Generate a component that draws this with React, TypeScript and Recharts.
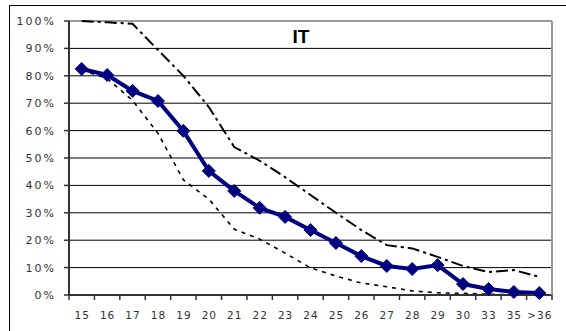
import { CartesianGrid, Line, LineChart, ReferenceLine, XAxis, YAxis } from 'recharts';

const ages = ['15', '16', '17', '18', '19', '20', '21', '22', '23', '24', '25', '26', '27', '28', '29', '30', '33', '35', '>36'];
const itShare = [0.825, 0.803, 0.745, 0.708, 0.599, 0.453, 0.38, 0.318, 0.285, 0.237, 0.19, 0.142, 0.106, 0.095, 0.109, 0.04, 0.022, 0.011, 0.007];
const upperBound = [1.0, 0.995, 0.99, 0.894, 0.8, 0.686, 0.54, 0.49, 0.43, 0.365, 0.3, 0.237, 0.182, 0.17, 0.139, 0.106, 0.084, 0.091, 0.066];
const lowerBound = [0.82, 0.79, 0.71, 0.59, 0.42, 0.35, 0.24, 0.204, 0.153, 0.099, 0.069, 0.044, 0.03, 0.015, 0.008, 0.006, 0.003, 0, 0];
const yTicks = [0, 0.1, 0.2, 0.3, 0.4, 0.5, 0.6, 0.7, 0.8, 0.9, 1];

const data = ages.map((age, i) => ({ age, it: itShare[i], upper: upperBound[i], lower: lowerBound[i] }));

const W = 566;
const H = 331;
const PLOT_LEFT = 69;
const PLOT_RIGHT = 552;
const PLOT_TOP = 21;
const PLOT_BOTTOM = 295;
const BAND = (PLOT_RIGHT - PLOT_LEFT) / ages.length;
const AXIS = '#333';
const NAVY = '#000080';
const FONT = '"DejaVu Sans", Verdana, sans-serif';

function AgeTick(props: any) {
  const { x, payload, index } = props;
  const half = BAND / 2;
  return (
    <g>
      <line x1={x - half} x2={x - half} y1={PLOT_BOTTOM} y2={PLOT_BOTTOM + 5} stroke={AXIS} strokeWidth={1.5} />
      {index === ages.length - 1 && (
        <line x1={x + half} x2={x + half} y1={PLOT_BOTTOM} y2={PLOT_BOTTOM + 5} stroke={AXIS} strokeWidth={1.5} />
      )}
      <text x={x + 0.5} y={PLOT_BOTTOM + 24} textAnchor="middle" fontFamily={FONT} fontSize={10.5} letterSpacing={1} fill="#333">
        {payload.value}
      </text>
    </g>
  );
}

function Diamond(props: any) {
  const { cx, cy } = props;
  if (cx == null || cy == null) return null;
  const r = 6.5;
  return <path d={`M${cx},${cy - r} L${cx + r},${cy} L${cx},${cy + r} L${cx - r},${cy} Z`} fill={NAVY} stroke={NAVY} />;
}

export default function App() {
  return (
    <div style={{ position: 'fixed', left: 0, top: 0, width: W, height: H, overflow: 'hidden', background: '#fff' }}>
      <div style={{ position: 'absolute', left: 9, top: 5, width: 700, height: 500, border: '1px solid #000' }} />
      <div
        style={{
          position: 'absolute',
          left: 261,
          top: 27,
          width: 80,
          textAlign: 'center',
          fontFamily: '"Liberation Sans", Arial, sans-serif',
          fontWeight: 'bold',
          fontSize: 19,
          lineHeight: '19px',
          color: '#000',
        }}
      >
        IT
      </div>
      <div style={{ position: 'absolute', left: 0, top: 0 }}>
        <LineChart width={W} height={H} data={data} margin={{ top: PLOT_TOP, right: W - PLOT_RIGHT - 1, left: 0, bottom: 0 }}>
          <CartesianGrid vertical={false} stroke="#000" strokeWidth={1} />
          <ReferenceLine y={1} stroke="#999" strokeWidth={2} />
          <XAxis
            dataKey="age"
            height={H - PLOT_BOTTOM}
            interval={0}
            padding={{ left: BAND / 2, right: BAND / 2 }}
            tickLine={false}
            axisLine={{ stroke: AXIS, strokeWidth: 2 }}
            tick={<AgeTick />}
          />
          <YAxis
            width={PLOT_LEFT}
            domain={[0, 1]}
            ticks={yTicks}
            interval={0}
            tickSize={5}
            tickMargin={8}
            tickLine={{ stroke: AXIS, strokeWidth: 1.5 }}
            axisLine={{ stroke: AXIS, strokeWidth: 2 }}
            tickFormatter={(v: number) => `${Math.round(v * 100)}%`}
            tick={{ fill: '#333', fontSize: 11, fontFamily: FONT, letterSpacing: 2 }}
          />
          <YAxis yAxisId="frame" orientation="right" width={1} domain={[0, 1]} tick={false} tickLine={false} axisLine={{ stroke: '#999', strokeWidth: 2 }} />
          <Line dataKey="upper" type="linear" stroke="#000" strokeWidth={2} strokeDasharray="12 4 3 4" dot={false} isAnimationActive={false} />
          <Line dataKey="lower" type="linear" stroke="#000" strokeWidth={1.6} strokeDasharray="4 5" dot={false} isAnimationActive={false} />
          <Line dataKey="it" type="linear" stroke={NAVY} strokeWidth={4} dot={<Diamond />} activeDot={false} isAnimationActive={false} />
        </LineChart>
      </div>
    </div>
  );
}
